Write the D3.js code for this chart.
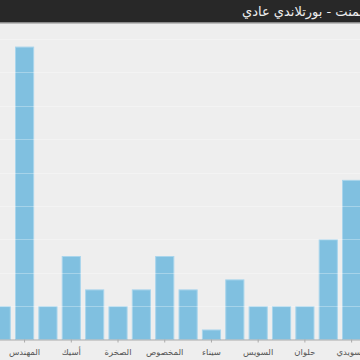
<!DOCTYPE html>
<html><head><meta charset="utf-8">
<script src="https://cdn.jsdelivr.net/npm/d3@7"></script>
<style>html,body{margin:0;padding:0;background:#eeeeee;overflow:hidden}</style>
</head><body>
<svg id="c" width="360" height="360"></svg>
<script>
const title = "أسعار الأسمنت - بورتلاندي عادي";
const categories = ["العربية","المهندس","القومية","أسيك","طرة","الصخرة","بني سويف","المخصوص","العريش","سيناء","مصر","السويس","الأسيوطي","حلوان","لافارج","السويدي"];
const values = [1, 8.77, 1, 2.5, 1.5, 1, 1.5, 2.5, 1.5, 0.3, 1.8, 1, 1, 1, 3, 4.78];
const labeledCategories = ["المهندس","أسيك","الصخرة","المخصوص","سيناء","السويس","حلوان","السويدي"];
const gridValues = [1,2,3,4,5,6,7,8,9];

const svg = d3.select("#c");
svg.append("rect").attr("width",360).attr("height",360).attr("fill","#eeeeee");

const x = d3.scaleBand().domain(categories).range([-8.36, 361.2]).paddingInner(0.18).paddingOuter(0);
const y = d3.scaleLinear().domain([0, 9]).range([339.5, 339.5 - 9*33.4]);

svg.append("g").selectAll("rect").data(values).join("rect")
  .attr("x",(d,i)=>x(categories[i])+0.5)
  .attr("y",d=>y(d)+0.5)
  .attr("width",x.bandwidth()-1)
  .attr("height",d=>y(0)-y(d)-0.5)
  .attr("fill","#80c0e0")
  .attr("stroke","#a9d5ec")
  .attr("stroke-width",1);

svg.append("g").selectAll("line").data(gridValues).join("line")
  .attr("x1",0).attr("x2",360)
  .attr("y1",d=>Math.round(y(d))+0.5).attr("y2",d=>Math.round(y(d))+0.5)
  .attr("stroke","#ffffff").attr("stroke-opacity",0.3);

const ax = svg.append("g").attr("transform","translate(0,339.5)")
  .call(d3.axisBottom(x).tickValues(labeledCategories).tickSize(3).tickSizeOuter(0));
ax.select(".domain").attr("stroke","#aaaaaa");
ax.selectAll(".tick line").attr("stroke","#aaaaaa");
ax.selectAll(".tick text").attr("fill","#555").attr("font-size","8.5px")
  .attr("font-family","'DejaVu Sans', 'Noto Sans', sans-serif").attr("dy","1.1em");

svg.append("rect").attr("x",0).attr("y",0).attr("width",360).attr("height",22).attr("fill","#282828");
svg.append("line").attr("x1",0).attr("x2",360).attr("y1",22.75).attr("y2",22.75).attr("stroke","#8a8a8a").attr("stroke-width",1.5);
svg.append("text").attr("x",242).attr("y",16).attr("direction","rtl").attr("text-anchor","end")
  .attr("fill","#eeeeee").attr("font-size","13px")
  .attr("font-family","'DejaVu Sans', 'Noto Sans', sans-serif").text(title);
</script>
</body></html>
